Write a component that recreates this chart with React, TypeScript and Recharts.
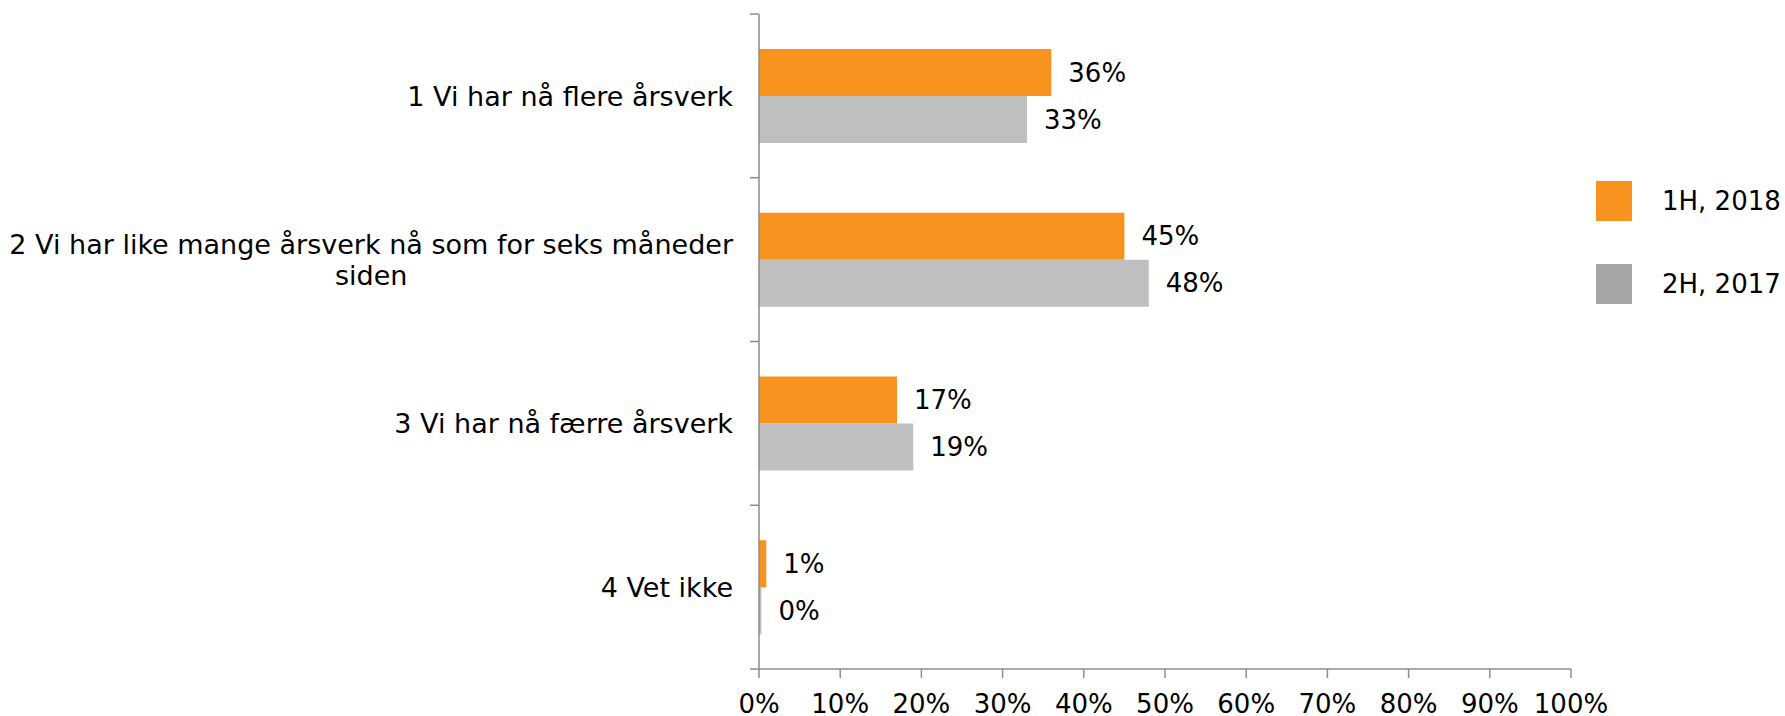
import {
  Bar,
  BarChart,
  LabelList,
  XAxis,
  YAxis,
} from "recharts";

const FONT = '"DejaVu Sans", Verdana, sans-serif';
const FONT_SIZE = 26;
const CAT_FONT_SIZE = 27;
const AXIS = "#8c8c8c";
const TICK = 9;
const CAT_MARGIN = 26;

const categories = [
  "1 Vi har nå flere årsverk",
  "2 Vi har like mange årsverk nå som for seks måneder siden",
  "3 Vi har nå færre årsverk",
  "4 Vet ikke",
];
const h1_2018 = [36, 45, 17, 0.9];
const h2_2017 = [33, 48, 19, 0.3];
const xTicks = [0, 10, 20, 30, 40, 50, 60, 70, 80, 90, 100];

const SERIES = [
  { key: "a", name: "1H, 2018", color: "#f7931e", legend: "#f7931e" },
  { key: "b", name: "2H, 2017", color: "#bfbfbf", legend: "#a6a6a6" },
];

let ctx: CanvasRenderingContext2D | null = null;
function measure(s: string) {
  if (!ctx) ctx = document.createElement("canvas").getContext("2d");
  if (!ctx) return s.length * CAT_FONT_SIZE * 0.55;
  ctx.font = `${CAT_FONT_SIZE}px ${FONT}`;
  return ctx.measureText(s).width;
}

function wrap(text: string, maxW: number) {
  const lines: string[] = [];
  let cur = "";
  for (const w of text.split(" ")) {
    const next = cur ? cur + " " + w : w;
    if (cur && measure(next) > maxW) {
      lines.push(cur);
      cur = w;
    } else cur = next;
  }
  if (cur) lines.push(cur);
  return lines;
}

// label + the band-boundary tick marks (Excel puts ticks between categories)
function CategoryTick({ x, y, payload, index }: any) {
  const lines = wrap(String(payload.value), 730);
  const w = Math.max(...lines.map(measure));
  const cx = x - w / 2;
  const lh = 31;
  const y0 = y - ((lines.length - 1) * lh) / 2;
  const half = Number(payload.offset) || 0;
  const ax = x + CAT_MARGIN;
  return (
    <g>
      {half > 0 && (
        <line x1={ax - TICK} x2={ax} y1={y - half} y2={y - half} stroke={AXIS} strokeWidth={1.5} />
      )}
      {half > 0 && index === categories.length - 1 && (
        <line x1={ax - TICK} x2={ax} y1={y + half} y2={y + half} stroke={AXIS} strokeWidth={1.5} />
      )}
      <text
        textAnchor="middle"
        fill="#000"
        fontSize={CAT_FONT_SIZE}
        fontFamily={FONT}
      >
        {lines.map((l, i) => (
          <tspan key={i} x={cx} y={y0 + i * lh} dy="0.36em">
            {l}
          </tspan>
        ))}
      </text>
    </g>
  );
}

export default function App() {
  const data = categories.map((c, i) => ({
    cat: c,
    a: h1_2018[i],
    b: h2_2017[i],
  }));

  return (
    <div
      style={{
        position: "absolute",
        left: 0,
        top: 0,
        width: 1785,
        height: 716,
        background: "#fff",
        fontFamily: FONT,
      }}
    >
      <BarChart
        width={1785}
        height={716}
        data={data}
        layout="vertical"
        barGap={0}
        margin={{ top: 14, right: 214, bottom: 0, left: 0 }}
      >
        <XAxis
          type="number"
          domain={[0, 100]}
          ticks={xTicks}
          interval={0}
          height={47}
          tickSize={TICK}
          tickMargin={17}
          tickFormatter={(v) => `${v}%`}
          tick={{ fontSize: FONT_SIZE, fill: "#000", fontFamily: FONT }}
          axisLine={{ stroke: AXIS, strokeWidth: 1.5 }}
          tickLine={{ stroke: AXIS, strokeWidth: 1.5 }}
        />
        <YAxis
          type="category"
          dataKey="cat"
          width={759}
          interval={0}
          axisLine={{ stroke: AXIS, strokeWidth: 1.5 }}
          tickLine={false}
          tickSize={0}
          tickMargin={CAT_MARGIN}
          tick={<CategoryTick />}
        />
        {SERIES.map((s) => (
          <Bar
            key={s.key}
            dataKey={s.key}
            name={s.name}
            fill={s.color}
            barSize={47}
            isAnimationActive={false}
          >
            <LabelList
              dataKey={s.key}
              position="right"
              offset={17}
              formatter={(v: any) => `${Math.round(Number(v))}%`}
              style={{ fontSize: FONT_SIZE, fill: "#000", fontFamily: FONT }}
            />
          </Bar>
        ))}
      </BarChart>
      <div style={{ position: "absolute", left: 1596, top: 181 }}>
        {SERIES.map((s) => (
          <div
            key={s.key}
            style={{
              display: "flex",
              alignItems: "center",
              height: 40,
              marginBottom: 43,
            }}
          >
            <div style={{ width: 36, height: 40, background: s.legend }} />
            <span
              style={{
                marginLeft: 30,
                fontSize: FONT_SIZE,
                color: "#000",
                whiteSpace: "nowrap",
              }}
            >
              {s.name}
            </span>
          </div>
        ))}
      </div>
    </div>
  );
}
